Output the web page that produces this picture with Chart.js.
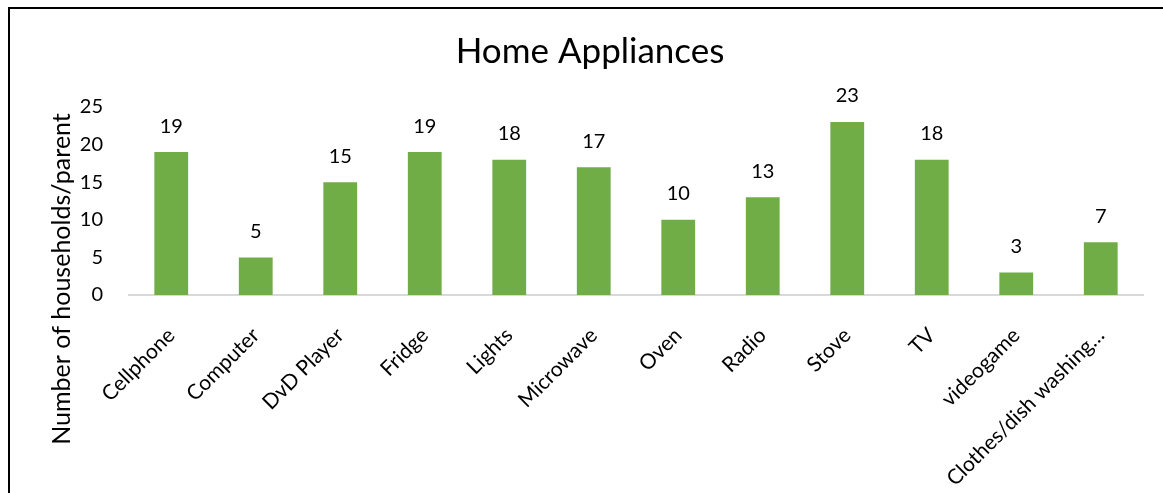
<!DOCTYPE html>
<html>
<head>
<meta charset="utf-8">
<title>Home Appliances</title>
<script src="https://cdn.jsdelivr.net/npm/chart.js@4.4.1/dist/chart.umd.min.js"></script>
<style>
    html, body {
        margin: 0;
        padding: 0;
        background: #fff;
        overflow: hidden;
    }
    #wrap {
        position: relative;
        width: 1163px;
        height: 493px;
    }
    /* frame of the chart box, only left and top edges are in view */
    #frame {
        position: absolute;
        left: 8px;
        top: 7px;
        width: 1200px;
        height: 600px;
        border-left: 2px solid #000;
        border-top: 2px solid #000;
        pointer-events: none;
    }
</style>
</head>
<body>
<div id="wrap">
    <canvas id="appliancesChart" width="1163" height="493"></canvas>
    <div id="frame"></div>
</div>
<script>
const appliances = ['Cellphone', 'Computer', 'DvD Player', 'Fridge', 'Lights', 'Microwave',
    'Oven', 'Radio', 'Stove', 'TV', 'videogame', 'Clothes/dish washing\u2026'];
const households = [19, 5, 15, 19, 18, 17, 10, 13, 23, 18, 3, 7];
const yTicks = [0, 5, 10, 15, 20, 25];

const FONT = 'Lato, "Open Sans", sans-serif';
const BAR_GREEN = '#70ad47';

// value above each bar
const barValues = {
    id: 'barValues',
    afterDatasetsDraw(chart) {
        const ctx = chart.ctx;
        const meta = chart.getDatasetMeta(0);
        ctx.save();
        ctx.font = '20px ' + FONT;
        ctx.fillStyle = '#000';
        ctx.textAlign = 'center';
        ctx.textBaseline = 'middle';
        meta.data.forEach((bar, i) => {
            ctx.fillText(String(households[i]), bar.x, bar.y - 26);
        });
        ctx.restore();
    }
};

// chart title and y axis title, both placed by hand
const titles = {
    id: 'titles',
    afterDraw(chart) {
        const ctx = chart.ctx;
        ctx.save();
        ctx.fillStyle = '#000';
        ctx.textAlign = 'center';
        ctx.textBaseline = 'middle';
        ctx.font = '35px ' + FONT;
        ctx.fillText('Home Appliances', 590, 52);

        ctx.translate(62, 279);
        ctx.rotate(-Math.PI / 2);
        ctx.font = '25px ' + FONT;
        ctx.fillText('Number of households/parent', 0, 0);
        ctx.restore();
    }
};

new Chart(document.getElementById('appliancesChart'), {
    type: 'bar',
    data: {
        labels: appliances,
        datasets: [{
            data: households,
            backgroundColor: BAR_GREEN,
            borderWidth: 0,
            categoryPercentage: 1,
            barPercentage: 0.4
        }]
    },
    options: {
        responsive: false,
        animation: false,
        layout: {
            padding: { left: 0, right: 20, top: 107, bottom: 0 }
        },
        plugins: {
            legend: { display: false },
            tooltip: { enabled: false },
            title: { display: false }
        },
        scales: {
            x: {
                grid: { display: false },
                border: { display: true, color: '#d9d9d9', width: 2 },
                ticks: {
                    color: '#000',
                    font: { family: FONT, size: 21 },
                    minRotation: 45,
                    maxRotation: 45,
                    autoSkip: false,
                    padding: 20
                },
                afterFit(axis) {
                    axis.height = 198;
                }
            },
            y: {
                min: 0,
                max: 25,
                grid: { display: false },
                border: { display: false },
                afterBuildTicks(axis) {
                    axis.ticks = yTicks.map(v => ({ value: v }));
                },
                ticks: {
                    color: '#000',
                    font: { family: FONT, size: 20 },
                    padding: 18
                },
                afterFit(axis) {
                    axis.width = 129;
                }
            }
        }
    },
    plugins: [barValues, titles]
});
</script>
</body>
</html>
